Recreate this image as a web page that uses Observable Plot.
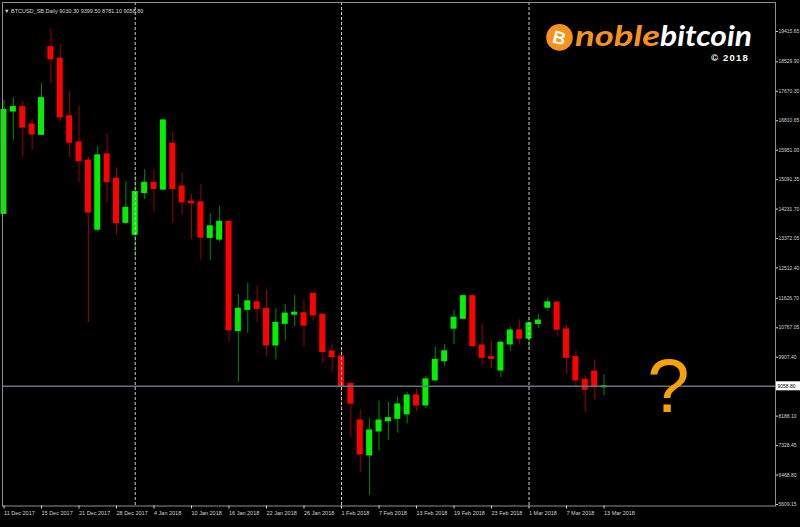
<!DOCTYPE html>
<html><head><meta charset="utf-8">
<script src="https://cdn.jsdelivr.net/npm/d3@7"></script>
<script src="https://cdn.jsdelivr.net/npm/@observablehq/plot@0.6"></script>
<style>
html,body{margin:0;padding:0;background:#000;}
#chart{width:800px;height:527px;overflow:hidden;}
svg{display:block;}
</style></head><body><div id="chart"></div>
<script>
const symbol = "BTCUSD_SB";
const timeframe = "Daily";
const dates = [
 "2017-12-11","2017-12-12","2017-12-13","2017-12-14","2017-12-15","2017-12-18","2017-12-19","2017-12-20",
 "2017-12-21","2017-12-22","2017-12-26","2017-12-27","2017-12-28","2017-12-29","2018-01-02","2018-01-03",
 "2018-01-04","2018-01-05","2018-01-08","2018-01-09","2018-01-10","2018-01-11","2018-01-12","2018-01-15",
 "2018-01-16","2018-01-17","2018-01-18","2018-01-19","2018-01-22","2018-01-23","2018-01-24","2018-01-25",
 "2018-01-26","2018-01-29","2018-01-30","2018-01-31","2018-02-01","2018-02-02","2018-02-05","2018-02-06",
 "2018-02-07","2018-02-08","2018-02-09","2018-02-12","2018-02-13","2018-02-14","2018-02-15","2018-02-16",
 "2018-02-19","2018-02-20","2018-02-21","2018-02-22","2018-02-23","2018-02-26","2018-02-27","2018-02-28",
 "2018-03-01","2018-03-02","2018-03-05","2018-03-06","2018-03-07","2018-03-08","2018-03-09","2018-03-12",
 "2018-03-13"
];
const open = [
 14090,17080,17210,16700,16400,18960,18620,16940,16180,15650,13630,15830,15120,13830,13480,14700,
 15000,14800,16140,14890,14450,14430,13390,13340,13860,10670,11290,11510,11320,10250,10880,11150,
 11190,11760,11150,10080,9930,9130,8060,7040,7740,8040,8110,8240,8790,8500,9230,9790,
 10740,11030,11690,10250,9910,9520,10280,10690,10450,10880,11350,11500,10720,9910,9250,9490,
 9030.30
];
const high = [
 17400,17470,17370,16870,17890,19490,19040,17670,17240,15750,16060,16410,15440,15040,15190,15380,
 15360,16840,16460,15290,14660,14940,14100,14310,13870,11740,12070,11980,11860,11320,11450,11710,
 11580,11780,11170,10300,10150,9140,8370,8110,8620,8600,8740,8890,8970,9350,10200,10280,
 11270,11710,11740,10880,10380,10380,10800,11000,11080,11150,11640,11540,10850,10080,9370,9830,
 9399.50
];
const low = [
 14090,16230,15750,15960,16380,17890,16770,15730,15000,10920,13560,14420,13460,13780,12830,14510,
 14140,14780,13830,14070,13340,12750,12730,13270,10350,9180,10610,10930,9930,9830,10380,10800,
 10200,10960,9720,9470,8400,7570,6550,5870,7170,7480,7690,7960,8320,8400,9210,9640,
 10280,11000,10200,9670,9570,9310,10080,10280,10150,10740,11250,10490,9400,9020,8300,8670,
 8781.10
];
const close = [
 17130,17210,16610,16410,17470,18600,16910,16170,15630,14130,15800,15020,13820,14270,14730,15000,
 14820,16820,14820,14430,14400,13400,13730,13860,10690,11320,11540,11320,10250,10910,11180,11210,
 10830,11130,10060,9910,9060,8550,7070,7770,8060,8130,8530,8790,8500,9260,9830,10080,
 11060,11690,10230,9890,9860,10330,10690,10450,10900,10980,11510,10710,9890,9230,8960,9030,
 9058.80
];
const dateTickLabels = [
 "11 Dec 2017","15 Dec 2017","21 Dec 2017","28 Dec 2017","4 Jan 2018","10 Jan 2018","16 Jan 2018",
 "22 Jan 2018","26 Jan 2018","1 Feb 2018","7 Feb 2018","13 Feb 2018","19 Feb 2018","23 Feb 2018",
 "1 Mar 2018","7 Mar 2018","13 Mar 2018"
];
const priceTicks = [
 19415.65,18529.90,17670.30,16810.65,15951.00,15091.35,14231.70,13372.05,12512.40,
 11626.70,10767.05,9907.40,8188.10,7328.45,6468.80,5609.15
];

const bodyUp = "#00f000", bodyDown = "#ff0000";
const wickUp = "#008a00", wickDown = "#9a0000";
const FONT = "Liberation Sans, Arial, sans-serif";

const rows = dates.map((d, i) => ({i, date: d, open: open[i], high: high[i], low: low[i], close: close[i], up: close[i] >= open[i]}));
const upRows = rows.filter(r => r.up), downRows = rows.filter(r => !r.up);
const tickIdx = dateTickLabels.map((_, k) => k * 4);
const monthStarts = rows.filter((r, i) => i > 0 && r.date.slice(5, 7) !== dates[i - 1].slice(5, 7)).map(r => r.i);
const last = rows.length - 1;

const body = (data, fill) => Plot.rect(data, {
  x1: d => d.i - 0.32, x2: d => d.i + 0.32,
  y1: d => Math.min(d.open, d.close), y2: d => Math.max(d.open, d.close),
  fill, insetTop: -0.5, insetBottom: -0.5
});

const chart = Plot.plot({
  width: 800, height: 527,
  marginLeft: 2, marginRight: 25, marginTop: 2, marginBottom: 21.5,
  style: {background: "#000", color: "#d4d4d4", fontFamily: FONT, fontSize: "5.5px"},
  x: {type: "linear", domain: [-0.16, 82.29]},
  y: {domain: [5565, 20262]},
  marks: [
    Plot.ruleX(upRows, {x: "i", y1: "low", y2: "high", stroke: wickUp, strokeWidth: 1}),
    Plot.ruleX(downRows, {x: "i", y1: "low", y2: "high", stroke: wickDown, strokeWidth: 1}),
    body(upRows, bodyUp),
    body(downRows, bodyDown),
    Plot.ruleY([close[last]], {stroke: "#66727f", strokeWidth: 1.5}),
    Plot.ruleX(monthStarts, {stroke: "#c8c8c8", strokeDasharray: "3,2", strokeWidth: 1}),
    Plot.frame({stroke: "#8f8f8f"}),
    Plot.axisX({ticks: tickIdx, tickFormat: d => dateTickLabels[d / 4], textAnchor: "start", tickSize: 3, tickPadding: 2.5, fontSize: 5.5, label: null}),
    Plot.axisY({anchor: "right", ticks: priceTicks, tickFormat: d => d.toFixed(2), tickSize: 2, tickPadding: 1, fontSize: 5, label: null})
  ]
});
document.getElementById("chart").appendChild(chart);

const svg = d3.select(chart);
const yS = chart.scale("y");
const yy = yS.apply(close[last]);
const addText = (g, x, y, str, opts = {}) => g.append("text")
  .attr("x", x).attr("y", y)
  .attr("text-anchor", opts.anchor || "start")
  .attr("font-size", opts.size || 5.5)
  .attr("font-weight", opts.weight || 400)
  .attr("font-style", opts.style || "normal")
  .attr("font-family", opts.family || FONT)
  .attr("fill", opts.fill || "#d8d8d8")
  .text(str);

// current price marker
svg.append("rect").attr("x", 776).attr("y", yy - 4.5).attr("width", 24).attr("height", 9).attr("fill", "#ffffff");
addText(svg, 777.5, yy, close[last].toFixed(2), {size: 5, fill: "#000"}).attr("dy", "0.36em");
// title
addText(svg, 4, 12.5, `▼ ${symbol},${timeframe} ${open[last].toFixed(2)} ${high[last].toFixed(2)} ${low[last].toFixed(2)} ${close[last].toFixed(2)}`, {size: 5.5});
// question mark
addText(svg, 668.5, 412, "?", {anchor: "middle", size: 76, fill: "#f5a300"});
// logo
const logo = svg.append("g");
logo.append("circle").attr("cx", 559.5).attr("cy", 37.4).attr("r", 13.3).attr("fill", "#f7931a");
addText(logo, 559.5, 44, "B", {anchor: "middle", size: 18, weight: 700, fill: "#fff"})
  .attr("transform", "rotate(14 559.5 37.4)");
const word = logo.append("text").attr("text-anchor", "start").attr("font-weight", 700);
word.append("tspan").attr("x", 575).attr("y", 45.8)
  .attr("font-size", 29).attr("font-style", "italic").attr("font-family", "Lato, Open Sans, sans-serif")
  .attr("textLength", 85).attr("lengthAdjust", "spacingAndGlyphs")
  .attr("fill", "#f7931a").text("noble");
word.append("tspan")
  .attr("font-size", 29).attr("font-style", "italic").attr("font-family", "Lato, Open Sans, sans-serif")
  .attr("textLength", 92).attr("lengthAdjust", "spacingAndGlyphs")
  .attr("fill", "#ffffff").text("bitcoin");
addText(logo, 711, 61, "© 2018", {size: 9.5, weight: 700, fill: "#fff"}).attr("letter-spacing", 1.2);
</script>
</body></html>
